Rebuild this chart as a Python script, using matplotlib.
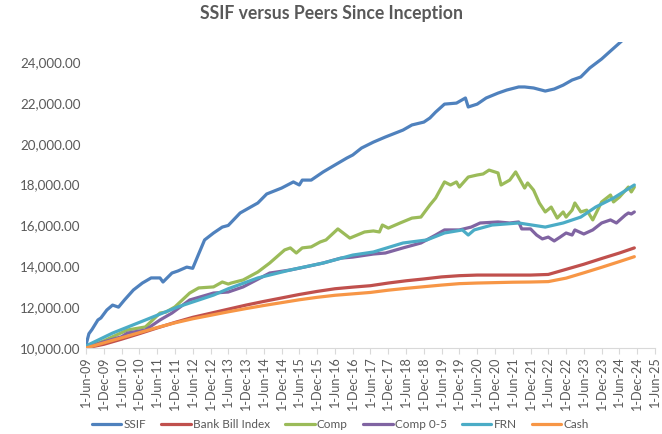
import pandas as pd
import matplotlib
matplotlib.use("Agg")
import matplotlib.pyplot as plt
from matplotlib.ticker import FuncFormatter

plt.rcParams["font.family"] = ["Lato", "DejaVu Sans"]

# === Data
ssif_dates = ["2009-06", "2009-07", "2009-08", "2009-10", "2009-11", "2010-01", "2010-03", "2010-05",
              "2010-07", "2010-10", "2011-01", "2011-04", "2011-07", "2011-08", "2011-11", "2012-01",
              "2012-04", "2012-06", "2012-08", "2012-10", "2013-01", "2013-04", "2013-06", "2013-10",
              "2014-04", "2014-07", "2014-12", "2015-04", "2015-06", "2015-07", "2015-10", "2016-02",
              "2016-06", "2016-10", "2016-12", "2017-03", "2017-07", "2017-11", "2018-05", "2018-08",
              "2018-12", "2019-02", "2019-04", "2019-07", "2019-11", "2020-02", "2020-03", "2020-06",
              "2020-09", "2021-01", "2021-04", "2021-08", "2021-10", "2022-01", "2022-05", "2022-08",
              "2022-11", "2023-02", "2023-05", "2023-08", "2023-12", "2024-03", "2024-06", "2024-11"]
ssif_vals = [10150, 10700, 10900, 11370, 11470, 11860, 12100, 12000,
             12350, 12840, 13180, 13430, 13430, 13230, 13670, 13770,
             13960, 13900, 14600, 15290, 15630, 15920, 16000, 16610,
             17100, 17540, 17830, 18130, 17980, 18220, 18220, 18620,
             18960, 19300, 19450, 19790, 20080, 20330, 20670, 20920,
             21060, 21260, 21550, 21940, 21990, 22240, 21800, 21940,
             22240, 22480, 22630, 22780, 22780, 22730, 22580, 22680,
             22870, 23120, 23270, 23710, 24150, 24540, 24930, 25600]

bank_dates = ["2009-06", "2009-12", "2010-06", "2010-12", "2011-06", "2011-12", "2012-06", "2012-12",
              "2013-06", "2013-12", "2014-06", "2014-12", "2015-06", "2015-12", "2016-06", "2016-12",
              "2017-06", "2017-12", "2018-06", "2018-12", "2019-06", "2019-12", "2020-06", "2020-12",
              "2021-06", "2021-12", "2022-06", "2022-12", "2023-06", "2023-12", "2024-06", "2024-11"]
bank_vals = [10000, 10180, 10430, 10700, 10980, 11250, 11500, 11700,
             11900, 12100, 12280, 12450, 12620, 12770, 12900, 12980,
             13050, 13180, 13290, 13380, 13480, 13540, 13570, 13570,
             13570, 13570, 13600, 13850, 14100, 14380, 14650, 14900]

comp_dates = ["2009-06", "2009-12", "2010-03", "2010-08", "2011-02", "2011-07", "2011-09", "2011-12",
              "2012-05", "2012-08", "2013-01", "2013-04", "2013-06", "2013-07", "2013-11", "2014-04",
              "2014-08", "2015-01", "2015-03", "2015-05", "2015-07", "2015-10", "2016-01", "2016-03",
              "2016-07", "2016-11", "2017-04", "2017-07", "2017-09", "2017-10", "2017-12", "2018-04",
              "2018-08", "2018-11", "2019-02", "2019-04", "2019-07", "2019-09", "2019-11", "2019-12",
              "2020-03", "2020-06", "2020-08", "2020-10", "2021-01", "2021-02", "2021-05", "2021-07",
              "2021-10", "2021-11", "2022-01", "2022-03", "2022-05", "2022-07", "2022-09", "2022-11",
              "2022-12", "2023-02", "2023-03", "2023-05", "2023-07", "2023-09", "2023-12", "2024-03",
              "2024-04", "2024-06", "2024-09", "2024-10", "2024-11"]
comp_vals = [10000, 10350, 10550, 10880, 11030, 11710, 11760, 12010,
             12690, 12940, 12990, 13230, 13130, 13180, 13330, 13720,
             14160, 14800, 14900, 14650, 14900, 14950, 15190, 15290,
             15830, 15380, 15680, 15730, 15680, 16020, 15870, 16120,
             16360, 16410, 17000, 17340, 18130, 17980, 18130, 17880,
             18370, 18470, 18520, 18710, 18570, 17980, 18220, 18620,
             17830, 18080, 17730, 17100, 16660, 16900, 16360, 16660,
             16410, 16750, 17100, 16660, 16750, 16270, 17150, 17490,
             17150, 17390, 17880, 17640, 17880]

comp05_dates = ["2009-06", "2009-12", "2010-06", "2010-08", "2011-02", "2011-07", "2011-11", "2012-05",
                "2013-01", "2013-06", "2013-11", "2014-08", "2015-03", "2015-08", "2016-02", "2016-08",
                "2016-12", "2017-07", "2017-11", "2018-05", "2018-11", "2019-04", "2019-07", "2019-12",
                "2020-04", "2020-07", "2021-01", "2021-05", "2021-08", "2021-09", "2021-12", "2022-02",
                "2022-04", "2022-06", "2022-08", "2022-10", "2022-12", "2023-02", "2023-03", "2023-06",
                "2023-09", "2023-12", "2024-03", "2024-05", "2024-08", "2024-09", "2024-10", "2024-11"]
comp05_vals = [10000, 10300, 10550, 10730, 10880, 11370, 11710, 12350,
               12690, 12740, 12990, 13670, 13820, 13970, 14160, 14400,
               14450, 14600, 14650, 14900, 15140, 15530, 15780, 15780,
               15920, 16120, 16170, 16120, 16170, 15830, 15830, 15530,
               15340, 15430, 15240, 15430, 15630, 15530, 15780, 15580,
               15780, 16120, 16270, 16120, 16510, 16610, 16560, 16660]

frn_dates = ["2009-06", "2010-03", "2011-02", "2012-01", "2013-01", "2013-06", "2014-04", "2015-03",
             "2016-02", "2016-12", "2017-07", "2018-05", "2019-01", "2019-07", "2020-01", "2020-03",
             "2020-05", "2020-11", "2021-08", "2022-05", "2022-11", "2023-05", "2023-10", "2024-04",
             "2024-11"]
frn_vals = [10100, 10730, 11370, 12010, 12590, 12900, 13430, 13820,
            14160, 14550, 14700, 15140, 15290, 15630, 15780, 15530,
            15780, 16020, 16120, 15920, 16120, 16410, 16900, 17340,
            17980]

cash_dates = bank_dates
cash_vals = [10000, 10250, 10500, 10750, 11000, 11230, 11430, 11600,
             11770, 11930, 12080, 12220, 12360, 12480, 12580, 12650,
             12720, 12830, 12920, 13000, 13080, 13150, 13180, 13200,
             13220, 13230, 13250, 13420, 13680, 13950, 14230, 14470]

series = [
    ("SSIF", ssif_dates, ssif_vals, "#4F81BD"),
    ("Bank Bill Index", bank_dates, bank_vals, "#C0504D"),
    ("Comp", comp_dates, comp_vals, "#9BBB59"),
    ("Comp 0-5", comp05_dates, comp05_vals, "#8064A2"),
    ("FRN", frn_dates, frn_vals, "#4BACC6"),
    ("Cash", cash_dates, cash_vals, "#F79646"),
]

# === Figure
fig = plt.figure(figsize=(6.62, 4.34), dpi=100)
ax = fig.add_axes([0.1299, 0.1982, 0.8595, 0.7059])

for name, d, v, c in series:
    ax.plot(pd.to_datetime(d), v, color=c, lw=2.3, label=name, solid_capstyle="round")

ax.set_ylim(10000, 25000)
ax.set_yticks(range(10000, 25000, 2000))
ax.yaxis.set_major_formatter(FuncFormatter(lambda v, p: f"{v:,.2f}"))

ticks = pd.date_range("2009-06-01", "2025-06-01", freq="6MS")
ax.set_xlim(ticks[0], ticks[-1])
ax.set_xticks(ticks)
ax.set_xticklabels([f"{t.day}-{t:%b-%y}" for t in ticks], rotation=90)

for s in ["top", "right", "left"]:
    ax.spines[s].set_visible(False)
ax.spines["bottom"].set_color("#D9D9D9")
ax.tick_params(axis="y", length=0, labelsize=9.6, labelcolor="#595959", pad=4)
ax.tick_params(axis="x", length=4, color="#D9D9D9", labelsize=9.1, labelcolor="#595959", pad=2)

fig.suptitle("SSIF versus Peers Since Inception", x=0.5, y=0.988, fontsize=12.7,
             fontweight="bold", color="#595959")

fig.legend(loc="lower center", bbox_to_anchor=(0.514, -0.016), ncol=6, frameon=False,
           fontsize=8.5, handlelength=2.5, handletextpad=0.17, columnspacing=1.3,
           labelcolor="#595959")

fig.savefig("out.png", dpi=100)
